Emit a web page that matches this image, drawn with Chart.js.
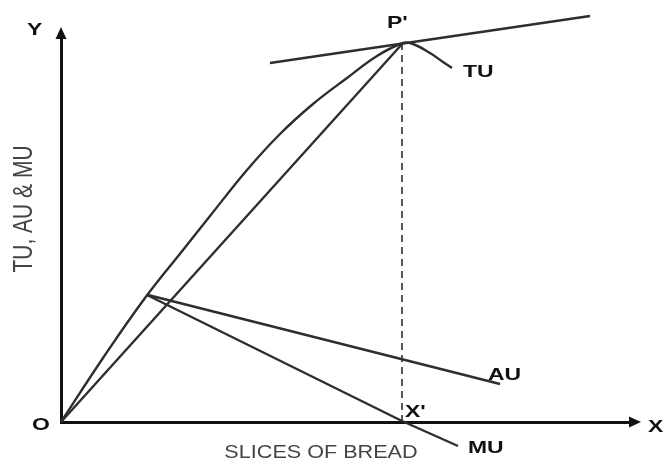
<!DOCTYPE html>
<html>
<head>
<meta charset="utf-8">
<script src="https://cdn.jsdelivr.net/npm/chart.js@4.4.0/dist/chart.umd.min.js"></script>
<style>
    html, body { margin: 0; padding: 0; background: #fff; }
</style>
</head>
<body>
<canvas id="myChart" width="665" height="461"></canvas>
<script>
// values (x = slices of bread, y = utility, arbitrary units)
const tuX = [0, 42, 84, 122, 149, 186, 219, 252, 286, 316, 342, 352, 369, 382, 391];
const tuY = [0, 64, 124, 172, 206, 252, 288, 318, 344, 366, 379, 378, 369, 360, 354];

const chordX = [0, 342];          // ray from O to P'
const chordY = [0, 379];

const tangentX = [209, 529];      // tangent touching TU at P'
const tangentY = [359, 406];

const auX = [87, 439];
const auY = [127, 38];

const muX = [86, 341, 397];
const muY = [127, 1, -24];

const dropX = [341, 341];         // dashed line P' -> X'
const dropY = [379, 0];

const xTitle = "SLICES OF BREAD";
const yTitle = "TU, AU & MU";

function pts(xs, ys) {
    return xs.map((x, i) => ({ x: x, y: ys[i] }));
}

const lineColor = "#2e2e2e";

function lineSet(label, xs, ys, extra) {
    return Object.assign({
        label: label,
        data: pts(xs, ys),
        showLine: true,
        borderColor: lineColor,
        borderWidth: 2.4,
        pointRadius: 0,
        fill: false,
        clip: false
    }, extra || {});
}

// arrows on the axes
const axisArrows = {
    id: "axisArrows",
    afterDraw(chart) {
        const { ctx, chartArea: a } = chart;
        ctx.save();
        ctx.fillStyle = "#111";
        ctx.beginPath();
        ctx.moveTo(a.left, a.top - 9);
        ctx.lineTo(a.left - 5.5, a.top + 3);
        ctx.lineTo(a.left + 5.5, a.top + 3);
        ctx.closePath();
        ctx.fill();
        ctx.beginPath();
        ctx.moveTo(a.right + 9, a.bottom);
        ctx.lineTo(a.right - 3, a.bottom - 5.5);
        ctx.lineTo(a.right - 3, a.bottom + 5.5);
        ctx.closePath();
        ctx.fill();
        ctx.restore();
    }
};

// point labels and axis titles
const textLabels = {
    id: "textLabels",
    afterDraw(chart) {
        const { ctx } = chart;
        const sx = chart.scales.x, sy = chart.scales.y;
        const marks = [
            ["Y", -34, 387], ["O", -29, -8], ["X", 587, -10],
            ["P'", 326, 394], ["TU", 402, 345], ["AU", 427, 42],
            ["X'", 344, 5], ["MU", 407, -31]
        ];
        ctx.save();
        ctx.fillStyle = "#111";
        ctx.font = "bold 17px 'Liberation Sans', Arial, sans-serif";
        ctx.textAlign = "left";
        ctx.textBaseline = "alphabetic";
        marks.forEach(m => {
            ctx.save();
            ctx.translate(sx.getPixelForValue(m[1]), sy.getPixelForValue(m[2]));
            ctx.scale(1.35, 1);
            ctx.fillText(m[0], 0, 0);
            ctx.restore();
        });

        ctx.fillStyle = "#444";
        ctx.font = "18px 'Liberation Sans', Arial, sans-serif";
        ctx.textAlign = "center";
        ctx.save();
        ctx.translate(sx.getPixelForValue(260), sy.getPixelForValue(-36));
        ctx.scale(1.2, 1);
        ctx.fillText(xTitle, 0, 0);
        ctx.restore();

        ctx.font = "21px 'Liberation Sans', Arial, sans-serif";
        ctx.textBaseline = "middle";
        ctx.save();
        ctx.translate(25, sy.getPixelForValue(213));
        ctx.rotate(-Math.PI / 2);
        ctx.scale(1, 1.28);
        ctx.fillText(yTitle, 0, 0);
        ctx.restore();
        ctx.restore();
    }
};

new Chart("myChart", {
    type: "scatter",
    data: {
        datasets: [
            lineSet("TU", tuX, tuY, { tension: 0.4 }),
            lineSet("O-P'", chordX, chordY),
            lineSet("tangent", tangentX, tangentY),
            lineSet("AU", auX, auY),
            lineSet("MU", muX, muY),
            lineSet("P'-X'", dropX, dropY, { borderWidth: 1.6, borderDash: [7, 5] })
        ]
    },
    options: {
        responsive: false,
        animation: false,
        devicePixelRatio: 1,
        layout: { padding: { left: 61, top: 36, right: 33, bottom: 39 } },
        plugins: {
            legend: { display: false },
            tooltip: { enabled: false }
        },
        scales: {
            x: {
                type: "linear",
                min: 0,
                max: 571,
                ticks: { display: false },
                grid: { display: false, drawTicks: false },
                border: { color: "#111", width: 3 }
            },
            y: {
                type: "linear",
                min: 0,
                max: 386,
                ticks: { display: false },
                grid: { display: false, drawTicks: false },
                border: { color: "#111", width: 3 }
            }
        }
    },
    plugins: [axisArrows, textLabels]
});
</script>
</body>
</html>
